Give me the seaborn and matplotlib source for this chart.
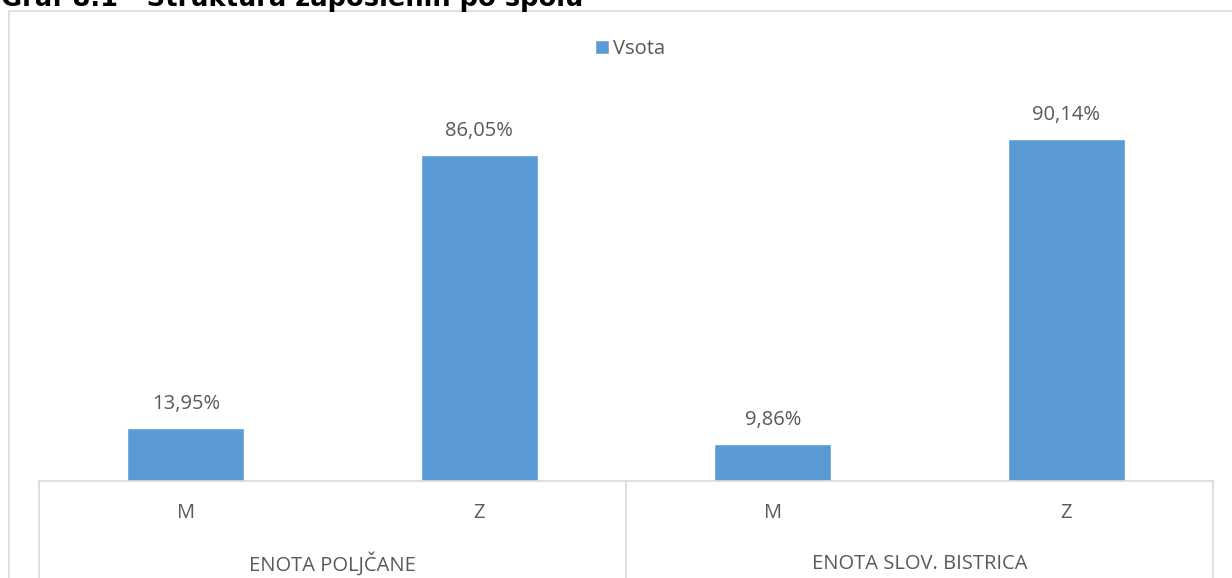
import seaborn as sns
import matplotlib.pyplot as plt
import pandas as pd
from matplotlib.lines import Line2D
from matplotlib.patches import Rectangle, Patch

# data
ls_units = ['ENOTA POLJČANE', 'ENOTA POLJČANE', 'ENOTA SLOV. BISTRICA', 'ENOTA SLOV. BISTRICA']
ls_sex = ['M', 'Z', 'M', 'Z']
ls_vsota = [13.95, 86.05, 9.86, 90.14]
s_series = 'Vsota'
s_title = 'Graf 8.1 - Struktura zaposlenih po spolu'

df_data = pd.DataFrame({'key': [u + '|' + s for u, s in zip(ls_units, ls_sex)],
                        'unit': ls_units, 'sex': ls_sex, 'value': ls_vsota})

sns.set_style('white')
plt.rcParams['font.family'] = ['Open Sans', 'DejaVu Sans']

W, H = 1232, 578
fig = plt.figure(figsize=(W / 100, H / 100), dpi=100)
c_bar = '#5B9BD5'
c_txt = '#595959'
c_grid = '#D9D9D9'
n_fs = 14.5

# chart area border
fig.patches.append(Rectangle((9 / W, -0.1), 1.2, 1 - 11 / H + 0.1, transform=fig.transFigure,
                             fill=False, edgecolor=c_grid, linewidth=1.2))

x0, x1 = 39, 1213
y_base, y_top = 481, 102
ax = fig.add_axes([x0 / W, (H - y_base) / H, (x1 - x0) / W, (y_base - y_top) / H])
sns.barplot(data=df_data, x='key', y='value', color=c_bar, width=0.4, saturation=1,
            ax=ax, label=s_series)
ax.set_xlim(-0.5, 3.5)
ax.set_ylim(0, 100)
ax.set_xlabel('')
ax.set_ylabel('')
ax.set_yticks([])
ax.set_xticks(range(len(ls_sex)))
ax.set_xticklabels(ls_sex, color=c_txt, fontsize=n_fs)
ax.tick_params(axis='x', length=0, pad=16)
for s_sp in ['top', 'right', 'left']:
    ax.spines[s_sp].set_visible(False)
ax.spines['bottom'].set_color(c_grid)
ax.spines['bottom'].set_linewidth(1.2)
ax.set_facecolor('none')

for bar, v in zip(ax.patches, ls_vsota):
    ax.annotate(f'{v:.2f}%'.replace('.', ','), (bar.get_x() + bar.get_width() / 2, v),
                xytext=(0, 10), textcoords='offset points', ha='center', va='bottom',
                color=c_txt, fontsize=n_fs)

# group labels and separators below the axis
trans = ax.get_xaxis_transform()
for i, s_unit in enumerate(dict.fromkeys(ls_units)):
    ax.text(2 * i + 0.5, -(564 - y_base) / (y_base - y_top), s_unit, transform=trans,
            ha='center', va='center', color=c_txt, fontsize=n_fs)
for xv in [-0.5, 1.5, 3.5]:
    ax.add_line(Line2D([xv, xv], [0, -0.3], transform=trans, color=c_grid,
                       linewidth=1.2, clip_on=False))

if ax.legend_:
    ax.legend_.remove()
fig.legend(handles=[Patch(facecolor=c_bar, label=s_series)], loc='center',
           bbox_to_anchor=(630 / W, 1 - 49 / H), frameon=False, fontsize=n_fs,
           handlelength=0.7, handleheight=0.7, handletextpad=0.2, labelcolor=c_txt)

fig.text(1 / W, 1 - 6 / H, s_title, ha='left', va='baseline', fontsize=18.5,
         fontweight='bold', family='DejaVu Sans', color='black')

fig.savefig('out.png', dpi=100)
